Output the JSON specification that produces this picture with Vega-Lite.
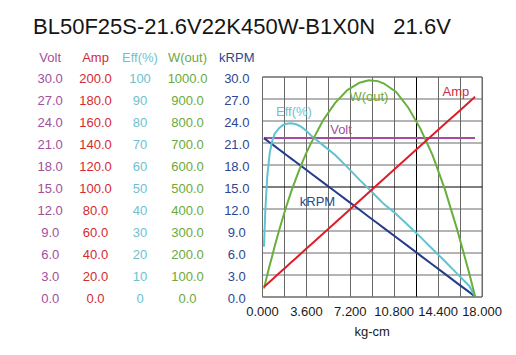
{
  "$schema": "https://vega.github.io/schema/vega-lite/v6.json",
  "width": 219.5,
  "height": 220,
  "autosize": "none",
  "padding": {"left": 262, "top": 76.5, "right": 34.5, "bottom": 58.5},
  "background": "white",
  "title": {
    "text": "BL50F25S-21.6V22K450W-B1X0N\u00a0\u00a0\u00a021.6V",
    "anchor": "start",
    "frame": "group",
    "dx": -229,
    "offset": -5,
    "baseline": "alphabetic",
    "fontSize": 22,
    "fontWeight": "normal",
    "color": "#151515"
  },
  "datasets": {
    "motor": [
      {"torque": 0.16, "volt": 21.65, "amp": 8.7, "eff": 22.6, "wout": 36, "krpm": 21.6},
      {"torque": 0.27, "volt": 21.6, "amp": 9.8, "eff": 39.0, "wout": 62, "krpm": 21.46},
      {"torque": 0.43, "volt": 21.6, "amp": 11.4, "eff": 54.5, "wout": 98, "krpm": 21.26},
      {"torque": 0.63, "volt": 21.6, "amp": 13.4, "eff": 65.0, "wout": 142, "krpm": 21.01},
      {"torque": 0.8, "volt": 21.6, "amp": 15.1, "eff": 70.0, "wout": 176, "krpm": 20.8},
      {"torque": 1.04, "volt": 21.6, "amp": 17.5, "eff": 74.0, "wout": 228, "krpm": 20.5},
      {"torque": 1.4, "volt": 21.6, "amp": 21.1, "eff": 76.5, "wout": 300, "krpm": 20.05},
      {"torque": 1.72, "volt": 21.6, "amp": 24.3, "eff": 78.0, "wout": 360, "krpm": 19.65},
      {"torque": 2.0, "volt": 21.6, "amp": 27.1, "eff": 78.5, "wout": 410, "krpm": 19.3},
      {"torque": 2.4, "volt": 21.6, "amp": 31.1, "eff": 78.7, "wout": 478, "krpm": 18.8},
      {"torque": 2.8, "volt": 21.6, "amp": 35.1, "eff": 78.3, "wout": 538, "krpm": 18.31},
      {"torque": 3.2, "volt": 21.6, "amp": 39.1, "eff": 77.2, "wout": 596, "krpm": 17.81},
      {"torque": 3.6, "volt": 21.6, "amp": 43.1, "eff": 75.5, "wout": 648, "krpm": 17.31},
      {"torque": 4.0, "volt": 21.6, "amp": 47.1, "eff": 73.3, "wout": 695, "krpm": 16.81},
      {"torque": 5.0, "volt": 21.6, "amp": 57.1, "eff": 68.8, "wout": 800, "krpm": 15.56},
      {"torque": 6.0, "volt": 21.6, "amp": 67.0, "eff": 64.3, "wout": 880, "krpm": 14.31},
      {"torque": 7.0, "volt": 21.6, "amp": 77.0, "eff": 58.8, "wout": 938, "krpm": 13.07},
      {"torque": 8.0, "volt": 21.6, "amp": 87.0, "eff": 53.0, "wout": 972, "krpm": 11.82},
      {"torque": 8.75, "volt": 21.6, "amp": 94.5, "eff": 49.0, "wout": 983, "krpm": 10.88},
      {"torque": 9.5, "volt": 21.6, "amp": 102.0, "eff": 44.8, "wout": 979, "krpm": 9.95},
      {"torque": 10.0, "volt": 21.6, "amp": 107.0, "eff": 42.0, "wout": 968, "krpm": 9.32},
      {"torque": 11.0, "volt": 21.6, "amp": 117.0, "eff": 37.5, "wout": 930, "krpm": 8.07},
      {"torque": 12.0, "volt": 21.6, "amp": 127.0, "eff": 32.3, "wout": 858, "krpm": 6.83},
      {"torque": 13.0, "volt": 21.6, "amp": 137.0, "eff": 27.0, "wout": 762, "krpm": 5.58},
      {"torque": 14.0, "volt": 21.6, "amp": 147.0, "eff": 21.5, "wout": 640, "krpm": 4.33},
      {"torque": 15.0, "volt": 21.6, "amp": 157.0, "eff": 16.0, "wout": 487, "krpm": 3.08},
      {"torque": 16.0, "volt": 21.6, "amp": 166.9, "eff": 10.4, "wout": 305, "krpm": 1.83},
      {"torque": 17.0, "volt": 21.6, "amp": 176.9, "eff": 4.8, "wout": 105, "krpm": 0.59},
      {"torque": 17.47, "volt": 21.6, "amp": 181.6, "eff": 0.0, "wout": 0, "krpm": 0.0}
    ],
    "notes": [
      {"series": "Volt", "torque": 6.48, "value": 22.7},
      {"series": "Amp", "torque": 15.9, "value": 185.9},
      {"series": "Eff(%)", "torque": 2.62, "value": 83.9},
      {"series": "W(out)", "torque": 8.77, "value": 907},
      {"series": "kRPM", "torque": 4.55, "value": 12.9}
    ]
  },
  "encoding": {
    "x": {
      "field": "torque",
      "type": "quantitative",
      "scale": {"domain": [0, 18], "nice": false, "zero": false},
      "axis": {
        "values": [0, 1.8, 3.6, 5.4, 7.2, 9, 10.8, 12.6, 14.4, 16.2, 18],
        "labelExpr": "abs(datum.value / 3.6 - round(datum.value / 3.6)) < 0.01 ? format(datum.value, '.3f') : ''",
        "labelOverlap": false,
        "labelFlush": false,
        "labelPadding": 9,
        "labelFontSize": 13,
        "labelColor": "#1a1a1a",
        "domain": false,
        "ticks": false,
        "grid": true,
        "gridColor": {"condition": {"test": "abs(datum.value - 12.6) < 0.01", "value": "#000000"}, "value": "#6a6a6a"},
        "gridOpacity": 1,
        "title": "kg-cm",
        "titleFontSize": 13,
        "titleFontWeight": "normal",
        "titleColor": "#1a1a1a",
        "titlePadding": 7
      }
    }
  },
  "layer": [
    {
      "data": {"name": "motor"},
      "mark": {"type": "line", "color": "#a54ba5", "strokeWidth": 2},
      "encoding": {
        "y": {
          "field": "volt", "type": "quantitative",
          "scale": {"domain": [0, 30], "nice": false},
          "axis": {
            "orient": "left", "values": [0, 3, 6, 9, 12, 15, 18, 21, 24, 27, 30], "format": ".1f",
            "grid": false, "domain": false, "ticks": false, "labelOverlap": false,
            "labelAlign": "center", "labelBaseline": "middle", "labelOffset": 2, "labelPadding": 212.3,
            "labelFontSize": 13, "labelColor": "#a0509c",
            "title": "Volt", "titleAngle": 0, "titleAlign": "center", "titleBaseline": "alphabetic",
            "titleX": -212.3, "titleY": -15.5, "titleFontSize": 13, "titleFontWeight": "normal", "titleColor": "#a0509c"
          }
        }
      }
    },
    {
      "data": {"name": "motor"},
      "mark": {"type": "line", "color": "#233c8c", "strokeWidth": 2},
      "encoding": {
        "y": {
          "field": "krpm", "type": "quantitative",
          "scale": {"domain": [0, 30], "nice": false},
          "axis": {
            "orient": "left", "values": [0, 3, 6, 9, 12, 15, 18, 21, 24, 27, 30], "format": ".1f",
            "grid": true, "gridOpacity": 1,
            "gridColor": {"condition": {"test": "abs(datum.value - 15) < 0.01", "value": "#000000"}, "value": "#6a6a6a"},
            "domain": false, "ticks": false, "labelOverlap": false,
            "labelAlign": "center", "labelBaseline": "middle", "labelOffset": 2, "labelPadding": 25.7,
            "labelFontSize": 13, "labelColor": "#2c4790",
            "title": "kRPM", "titleAngle": 0, "titleAlign": "center", "titleBaseline": "alphabetic",
            "titleX": -25.7, "titleY": -15.5, "titleFontSize": 13, "titleFontWeight": "normal", "titleColor": "#2c4790"
          }
        }
      }
    },
    {
      "data": {"name": "motor"},
      "mark": {"type": "line", "color": "#5fc3d2", "strokeWidth": 2},
      "encoding": {
        "y": {
          "field": "eff", "type": "quantitative",
          "scale": {"domain": [0, 100], "nice": false},
          "axis": {
            "orient": "left", "values": [0, 10, 20, 30, 40, 50, 60, 70, 80, 90, 100], "format": "d",
            "grid": false, "domain": false, "ticks": false, "labelOverlap": false,
            "labelAlign": "center", "labelBaseline": "middle", "labelOffset": 2, "labelPadding": 122.5,
            "labelFontSize": 13, "labelColor": "#6cc2d0",
            "title": "Eff(%)", "titleAngle": 0, "titleAlign": "center", "titleBaseline": "alphabetic",
            "titleX": -122.5, "titleY": -15.5, "titleFontSize": 13, "titleFontWeight": "normal", "titleColor": "#6cc2d0"
          }
        }
      }
    },
    {
      "data": {"name": "motor"},
      "mark": {"type": "line", "color": "#69af3c", "strokeWidth": 2},
      "encoding": {
        "y": {
          "field": "wout", "type": "quantitative",
          "scale": {"domain": [0, 1000], "nice": false},
          "axis": {
            "orient": "left", "values": [0, 100, 200, 300, 400, 500, 600, 700, 800, 900, 1000], "format": ".1f",
            "grid": false, "domain": false, "ticks": false, "labelOverlap": false,
            "labelAlign": "center", "labelBaseline": "middle", "labelOffset": 2, "labelPadding": 75,
            "labelFontSize": 13, "labelColor": "#6aaa3c",
            "title": "W(out)", "titleAngle": 0, "titleAlign": "center", "titleBaseline": "alphabetic",
            "titleX": -75, "titleY": -15.5, "titleFontSize": 13, "titleFontWeight": "normal", "titleColor": "#6aaa3c"
          }
        }
      }
    },
    {
      "data": {"name": "motor"},
      "mark": {"type": "line", "color": "#dc1e28", "strokeWidth": 2},
      "encoding": {
        "y": {
          "field": "amp", "type": "quantitative",
          "scale": {"domain": [0, 200], "nice": false},
          "axis": {
            "orient": "left", "values": [0, 20, 40, 60, 80, 100, 120, 140, 160, 180, 200], "format": ".1f",
            "grid": false, "domain": false, "ticks": false, "labelOverlap": false,
            "labelAlign": "center", "labelBaseline": "middle", "labelOffset": 2, "labelPadding": 167,
            "labelFontSize": 13, "labelColor": "#d42a33",
            "title": "Amp", "titleAngle": 0, "titleAlign": "center", "titleBaseline": "alphabetic",
            "titleX": -167, "titleY": -15.5, "titleFontSize": 13, "titleFontWeight": "normal", "titleColor": "#d42a33"
          }
        }
      }
    },
    {
      "data": {"name": "notes"},
      "transform": [{"filter": {"field": "series", "equal": "Volt"}}],
      "mark": {"type": "text", "fontSize": 13, "color": "#a0509c", "baseline": "middle", "align": "center"},
      "encoding": {
        "y": {"field": "value", "type": "quantitative", "scale": {"domain": [0, 30], "nice": false}, "axis": null},
        "text": {"field": "series"}
      }
    },
    {
      "data": {"name": "notes"},
      "transform": [{"filter": {"field": "series", "equal": "kRPM"}}],
      "mark": {"type": "text", "fontSize": 13, "color": "#2c4790", "baseline": "middle", "align": "center"},
      "encoding": {
        "y": {"field": "value", "type": "quantitative", "scale": {"domain": [0, 30], "nice": false}, "axis": null},
        "text": {"field": "series"}
      }
    },
    {
      "data": {"name": "notes"},
      "transform": [{"filter": {"field": "series", "equal": "Eff(%)"}}],
      "mark": {"type": "text", "fontSize": 13, "color": "#6cc2d0", "baseline": "middle", "align": "center"},
      "encoding": {
        "y": {"field": "value", "type": "quantitative", "scale": {"domain": [0, 100], "nice": false}, "axis": null},
        "text": {"field": "series"}
      }
    },
    {
      "data": {"name": "notes"},
      "transform": [{"filter": {"field": "series", "equal": "W(out)"}}],
      "mark": {"type": "text", "fontSize": 13, "color": "#6aaa3c", "baseline": "middle", "align": "center"},
      "encoding": {
        "y": {"field": "value", "type": "quantitative", "scale": {"domain": [0, 1000], "nice": false}, "axis": null},
        "text": {"field": "series"}
      }
    },
    {
      "data": {"name": "notes"},
      "transform": [{"filter": {"field": "series", "equal": "Amp"}}],
      "mark": {"type": "text", "fontSize": 13, "color": "#d42a33", "baseline": "middle", "align": "center"},
      "encoding": {
        "y": {"field": "value", "type": "quantitative", "scale": {"domain": [0, 200], "nice": false}, "axis": null},
        "text": {"field": "series"}
      }
    }
  ],
  "resolve": {"scale": {"y": "independent"}, "axis": {"y": "independent"}},
  "config": {
    "font": "Liberation Sans",
    "view": {"stroke": "#6a6a6a", "strokeWidth": 1}
  }
}
